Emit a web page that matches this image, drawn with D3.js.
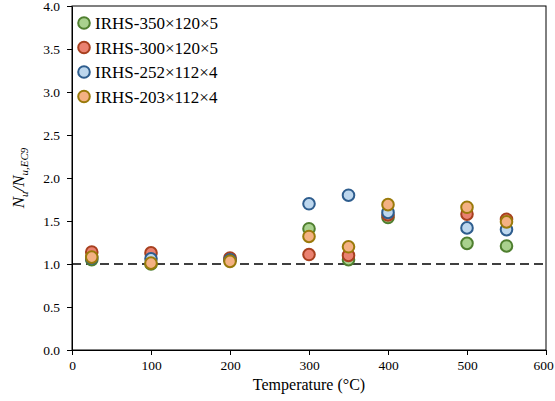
<!DOCTYPE html>
<html>
<head>
<meta charset="utf-8">
<script src="https://cdn.jsdelivr.net/npm/d3@7"></script>
<style>
  html, body { margin: 0; padding: 0; background: #fff; }
  svg { display: block; font-family: "Liberation Serif", "Times New Roman", serif; }
  .axis text { font-family: "Liberation Serif", "Times New Roman", serif; font-size: 13.5px; fill: #000; }
</style>
</head>
<body>
<svg id="chart" width="555" height="401"></svg>
<script>
// Temperatures tested (°C)
const temperatures = [25, 100, 200, 300, 350, 400, 500, 550];

// Normalised resistance Nu / Nu,EC9 for each section
const seriesNames = ["IRHS-350×120×5", "IRHS-300×120×5", "IRHS-252×112×4", "IRHS-203×112×4"];
const irhs350 = [1.05, 1.00, 1.05, 1.41, 1.05, 1.54, 1.24, 1.21];
const irhs300 = [1.14, 1.13, 1.07, 1.11, 1.10, 1.57, 1.58, 1.52];
const irhs252 = [1.07, 1.06, 1.05, 1.70, 1.80, 1.60, 1.42, 1.40];
const irhs203 = [1.08, 1.01, 1.03, 1.32, 1.20, 1.69, 1.66, 1.49];

const xTicks = [0, 100, 200, 300, 400, 500, 600];
const yTicks = [0, 0.5, 1.0, 1.5, 2.0, 2.5, 3.0, 3.5, 4.0];
const referenceRatio = 1.0;

const fills   = ["#a9d18e", "#ea8170", "#bdd7ee", "#f4b183"];
const strokes = ["#4f7f2f", "#a8401f", "#2e5d8e", "#9a7a0a"];

const series = [irhs350, irhs300, irhs252, irhs203].map((vals, i) => ({
  name: seriesNames[i], fill: fills[i], stroke: strokes[i],
  points: vals.map((v, j) => ({ t: temperatures[j], v }))
}));

const svg = d3.select("#chart");
const margin = { left: 72, right: 9, top: 6, bottom: 51 };
const W = 555, H = 401;

const x = d3.scaleLinear().domain([0, 600]).range([margin.left, W - margin.right]);
const y = d3.scaleLinear().domain([0, 4]).range([H - margin.bottom, margin.top]);

// plot frame
svg.append("rect")
  .attr("x", x(0)).attr("y", y(4))
  .attr("width", x(600) - x(0)).attr("height", y(0) - y(4))
  .attr("fill", "none").attr("stroke", "#000").attr("stroke-width", 1);

// axes
const xAxis = svg.append("g").attr("class", "axis")
  .attr("transform", `translate(0,${y(0)})`)
  .call(d3.axisBottom(x).tickValues(xTicks).tickSize(5).tickSizeOuter(0).tickPadding(5).tickFormat(d3.format("d")));
const yAxis = svg.append("g").attr("class", "axis")
  .attr("transform", `translate(${x(0)},0)`)
  .call(d3.axisLeft(y).tickValues(yTicks).tickSize(5).tickSizeOuter(0).tickPadding(7).tickFormat(d3.format(".1f")));

[xAxis, yAxis].forEach(g => {
  g.attr("font-family", '"Liberation Serif", "Times New Roman", serif').attr("font-size", 13.5);
  g.select(".domain").attr("stroke", "#000").attr("stroke-width", 1);
  g.selectAll(".tick line").attr("stroke", "#000");
});
// keep the last x label inside the canvas
xAxis.selectAll(".tick text").filter(d => d === 600).attr("dx", -3);

// reference line at ratio 1.0
svg.append("line")
  .attr("x1", x(0)).attr("x2", x(600))
  .attr("y1", y(referenceRatio)).attr("y2", y(referenceRatio))
  .attr("stroke", "#000").attr("stroke-width", 1.5)
  .attr("stroke-dasharray", "9,5");

// data markers
series.forEach(s => {
  svg.append("g").selectAll("circle")
    .data(s.points).join("circle")
    .attr("cx", d => x(d.t)).attr("cy", d => y(d.v))
    .attr("r", 5.8)
    .attr("fill", s.fill).attr("stroke", s.stroke).attr("stroke-width", 2);
});

// axis titles
svg.append("text")
  .attr("x", (x(0) + x(600)) / 2).attr("y", 390)
  .attr("text-anchor", "middle")
  .style("font-size", "16px")
  .text("Temperature (°C)");

const yTitle = svg.append("text")
  .attr("transform", `translate(24,${(y(0) + y(4)) / 2}) rotate(-90)`)
  .attr("text-anchor", "middle")
  .style("font-size", "17px")
  .style("font-style", "italic");
yTitle.append("tspan").text("N");
yTitle.append("tspan").attr("dy", 4).style("font-size", "11px").text("u");
yTitle.append("tspan").attr("dy", -4).text("/N");
yTitle.append("tspan").attr("dy", 4).style("font-size", "11px").text("u,EC9");

// legend
const legend = svg.append("g");
series.forEach((s, i) => {
  const ly = 23 + i * 24.5;
  legend.append("circle")
    .attr("cx", 84).attr("cy", ly).attr("r", 5.8)
    .attr("fill", s.fill).attr("stroke", s.stroke).attr("stroke-width", 2);
  legend.append("text")
    .attr("x", 95).attr("y", ly + 6)
    .style("font-size", "17px")
    .text(s.name);
});
</script>
</body>
</html>
